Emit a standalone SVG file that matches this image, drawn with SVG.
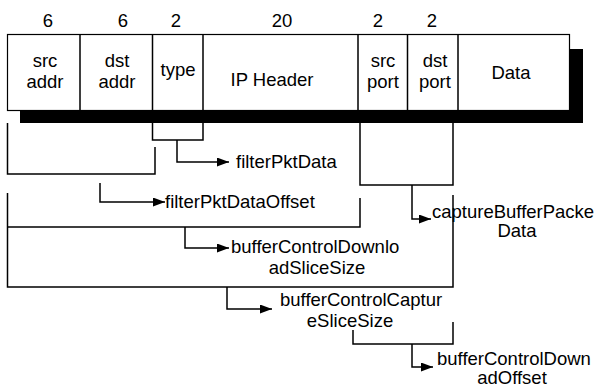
<svg xmlns="http://www.w3.org/2000/svg" width="596" height="388" viewBox="0 0 596 388">
<style>
text{font-family:"Liberation Sans",Arial,sans-serif;font-size:18.5px;fill:#000}
.m{text-anchor:middle}
.ln{fill:none;stroke:#000;stroke-width:1.5}
</style>
<defs>
<marker id="ah" viewBox="0 0 12 9" refX="12" refY="4.5" markerWidth="12" markerHeight="9" markerUnits="userSpaceOnUse" orient="auto">
<path d="M0,0 L12,4.5 L0,9 Z" fill="#000"/>
</marker>
</defs>
<rect width="596" height="388" fill="#fff"/>
<g id="widths">
<text class="m" x="48" y="27">6</text>
<text class="m" x="123" y="27">6</text>
<text class="m" x="176" y="27">2</text>
<text class="m" x="282" y="27">20</text>
<text class="m" x="378" y="27">2</text>
<text class="m" x="432" y="27">2</text>
</g>
<g id="shadow">
<rect x="20" y="110" width="563" height="13" fill="#000"/>
<rect x="569" y="49" width="14" height="74" fill="#000"/>
</g>
<g id="packet">
<rect x="7.5" y="34.5" width="562" height="76" fill="#fff" stroke="#000" stroke-width="1.2"/>
<path class="ln" d="M80,34.5V110.5M152.5,34.5V110.5M203,34.5V110.5M358,34.5V110.5M407.5,34.5V110.5M458,34.5V110.5"/>
</g>
<g id="f-src-addr"><text class="m" x="45" y="67">src</text><text class="m" x="45" y="88">addr</text></g>
<g id="f-dst-addr"><text class="m" x="117" y="67">dst</text><text class="m" x="117" y="88">addr</text></g>
<g id="f-type"><text class="m" x="178" y="76">type</text></g>
<g id="f-ip"><text class="m" x="272" y="86">IP Header</text></g>
<g id="f-src-port"><text class="m" x="383" y="67">src</text><text class="m" x="383" y="88">port</text></g>
<g id="f-dst-port"><text class="m" x="435" y="67">dst</text><text class="m" x="435" y="88">port</text></g>
<g id="f-data"><text class="m" x="511" y="79">Data</text></g>
<g id="connectors">
<path class="ln" d="M152.5,123V140H203V123"/>
<path class="ln" d="M177,140V162H229" marker-end="url(#ah)"/>
<path class="ln" d="M7.5,123V174H155V147"/>
<path class="ln" d="M100,183V202H165" marker-end="url(#ah)"/>
<path class="ln" d="M7.5,193V287H453V195"/>
<path class="ln" d="M7.5,227H360V198"/>
<path class="ln" d="M185,227V248H229" marker-end="url(#ah)"/>
<path class="ln" d="M227,287V309H272" marker-end="url(#ah)"/>
<path class="ln" d="M360,123V185H453V123"/>
<path class="ln" d="M412,185V219H431" marker-end="url(#ah)"/>
<path class="ln" d="M353,330V344H453V322"/>
<path class="ln" d="M412,344V367H433" marker-end="url(#ah)"/>
</g>
<g id="l-filterPktData"><text x="236" y="168">filterPktData</text></g>
<g id="l-filterPktDataOffset"><text x="165" y="208">filterPktDataOffset</text></g>
<g id="l-download-slice"><text x="231" y="253">bufferControlDownlo</text><text class="m" x="317" y="274">adSliceSize</text></g>
<g id="l-capture-slice"><text x="280" y="306">bufferControlCaptur</text><text class="m" x="350" y="327">eSliceSize</text></g>
<g id="l-capture-data"><text x="432" y="218">captureBufferPacke</text><text class="m" x="517" y="237">Data</text></g>
<g id="l-download-offset"><text x="437" y="365">bufferControlDown</text><text class="m" x="512" y="384">adOffset</text></g>
</svg>
